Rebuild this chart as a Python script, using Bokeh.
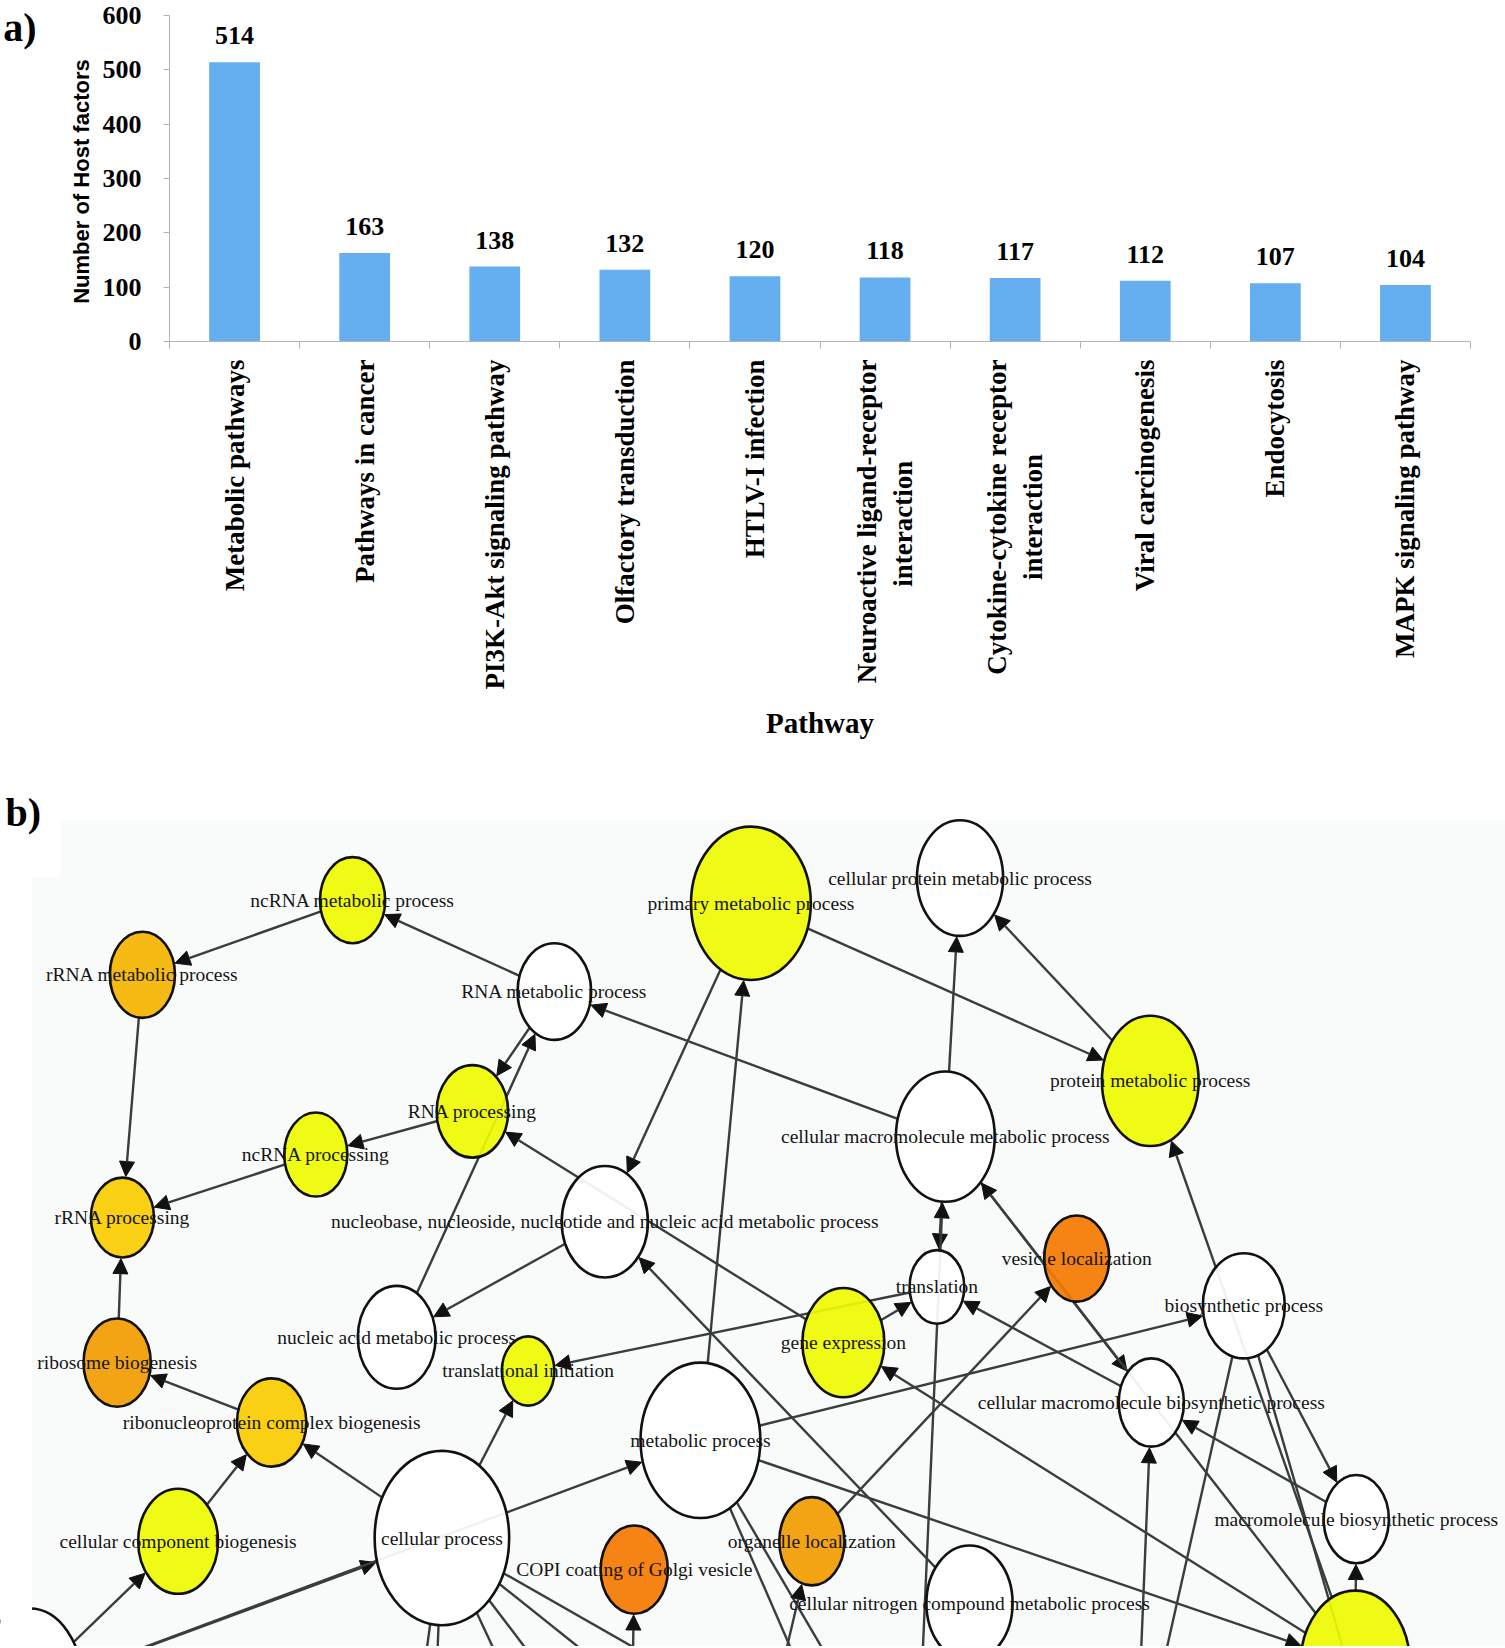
import math
from bokeh.plotting import figure
from bokeh.models import (Range1d, FixedTicker, Label, Arrow, NormalHead, ColumnDataSource,
                          LinearAxis, BoxAnnotation)
from bokeh.embed import file_html
from bokeh.resources import INLINE
from bokeh.core.properties import value

# ------------------------------------------------------------------ panel a data
pathways = [
    "Metabolic pathways",
    "Pathways in cancer",
    "PI3K-Akt signaling pathway",
    "Olfactory transduction",
    "HTLV-I infection",
    "Neuroactive ligand-receptor\ninteraction",
    "Cytokine-cytokine receptor\ninteraction",
    "Viral carcinogenesis",
    "Endocytosis",
    "MAPK signaling pathway",
]
host_factors = [514, 163, 138, 132, 120, 118, 117, 112, 107, 104]
count_ticks = [0, 100, 200, 300, 400, 500, 600]

# ------------------------------------------------------------------ panel b data
go_terms = [
    "ncRNA metabolic process",
    "rRNA metabolic process",
    "RNA metabolic process",
    "primary metabolic process",
    "cellular protein metabolic process",
    "protein metabolic process",
    "cellular macromolecule metabolic process",
    "RNA processing",
    "ncRNA processing",
    "rRNA processing",
    "nucleobase, nucleoside, nucleotide and nucleic acid metabolic process",
    "translation",
    "vesicle localization",
    "biosynthetic process",
    "gene expression",
    "nucleic acid metabolic process",
    "translational initiation",
    "ribosome biogenesis",
    "ribonucleoprotein complex biogenesis",
    "cellular macromolecule biosynthetic process",
    "metabolic process",
    "cellular process",
    "cellular component biogenesis",
    "macromolecule biosynthetic process",
    "organelle localization",
    "COPI coating of Golgi vesicle",
    "cellular nitrogen compound metabolic process",
    "macromolecule metabolic process",
    "cellular component organization or biogenesis",
    "biological_process",
    "cellular metabolic process",
    "nitrogen compound metabolic process",
    "cellular localization",
    "cellular component organization",
    "cellular component assembly",
    "cell communication",
    "cellular response to stimulus",
    "cellular biosynthetic process",
    "organic substance biosynthetic process",
]
term_x = [335, 135, 527, 714, 913, 1094, 899, 449, 300, 116, 575, 891, 1024, 1183, 802,
          377, 502, 111, 258, 1095, 666, 420, 169, 1290, 772, 603, 922, 1289, 28,
          -60, 871, 818, 717, 600, 540, 385, 410, 1080, 1330]
term_y = [856, 927, 943, 859, 835, 1028, 1081, 1057, 1098, 1158, 1162, 1224, 1197, 1242, 1277,
          1272, 1304, 1296, 1353, 1334, 1370, 1463, 1466, 1445, 1466, 1493, 1525, 1583, 1602,
          1640, 1720, 1720, 1700, 1700, 1720, 1720, 1720, 1700, 1750]
term_rx = [31, 31, 35, 57, 41, 46, 47, 34, 30, 30, 41, 26, 31, 39, 39,
           37, 25, 32, 33, 31, 57, 64, 38, 31, 31, 32, 41, 52, 50,
           60, 55, 50, 45, 45, 45, 45, 45, 50, 50]
term_ry = [41, 41, 46, 73, 55, 62, 62, 44, 40, 38, 53, 35, 41, 50, 52,
           49, 33, 42, 42, 42, 74, 83, 50, 42, 42, 42, 55, 70, 72,
           80, 70, 66, 60, 60, 60, 60, 60, 66, 66]
term_level = [1, 3, 0, 1, 0, 1, 0, 1, 1, 2, 0, 0, 5, 0, 1,
              0, 1, 4, 2, 0, 0, 0, 1, 0, 4, 5, 0, 1, 0,
              0, 0, 0, 0, 0, 0, 0, 0, 0, 0]
go_edges = [
    ("ncRNA metabolic process", "rRNA metabolic process"),
    ("RNA metabolic process", "ncRNA metabolic process"),
    ("rRNA metabolic process", "rRNA processing"),
    ("RNA metabolic process", "RNA processing"),
    ("nucleic acid metabolic process", "RNA metabolic process"),
    ("RNA processing", "ncRNA processing"),
    ("ncRNA processing", "rRNA processing"),
    ("ribosome biogenesis", "rRNA processing"),
    ("ribonucleoprotein complex biogenesis", "ribosome biogenesis"),
    ("cellular component biogenesis", "ribonucleoprotein complex biogenesis"),
    ("cellular process", "ribonucleoprotein complex biogenesis"),
    ("cellular process", "translational initiation"),
    ("biological_process", "cellular process"),
    ("biological_process", "metabolic process"),
    ("cellular component organization or biogenesis", "cellular component biogenesis"),
    ("primary metabolic process", "nucleobase, nucleoside, nucleotide and nucleic acid metabolic process"),
    ("metabolic process", "primary metabolic process"),
    ("primary metabolic process", "protein metabolic process"),
    ("cellular macromolecule metabolic process", "cellular protein metabolic process"),
    ("protein metabolic process", "cellular protein metabolic process"),
    ("cellular macromolecule metabolic process", "RNA metabolic process"),
    ("gene expression", "RNA processing"),
    ("nucleobase, nucleoside, nucleotide and nucleic acid metabolic process", "nucleic acid metabolic process"),
    ("translation", "translational initiation"),
    ("gene expression", "translation"),
    ("cellular macromolecule biosynthetic process", "translation"),
    ("cellular macromolecule metabolic process", "translation"),
    ("cellular metabolic process", "cellular macromolecule metabolic process"),
    ("cellular macromolecule metabolic process", "cellular macromolecule biosynthetic process"),
    ("macromolecule metabolic process", "cellular macromolecule metabolic process"),
    ("macromolecule metabolic process", "protein metabolic process"),
    ("macromolecule metabolic process", "macromolecule biosynthetic process"),
    ("macromolecule metabolic process", "gene expression"),
    ("metabolic process", "macromolecule metabolic process"),
    ("metabolic process", "biosynthetic process"),
    ("metabolic process", "cellular metabolic process"),
    ("metabolic process", "nitrogen compound metabolic process"),
    ("biosynthetic process", "macromolecule biosynthetic process"),
    ("macromolecule biosynthetic process", "cellular macromolecule biosynthetic process"),
    ("cellular biosynthetic process", "cellular macromolecule biosynthetic process"),
    ("biosynthetic process", "cellular biosynthetic process"),
    ("biosynthetic process", "organic substance biosynthetic process"),
    ("organelle localization", "vesicle localization"),
    ("cellular localization", "organelle localization"),
    ("cellular component organization", "COPI coating of Golgi vesicle"),
    ("cellular process", "cellular localization"),
    ("cellular process", "cellular component organization"),
    ("cellular process", "cellular component assembly"),
    ("cellular process", "cell communication"),
    ("cellular process", "cellular response to stimulus"),
    ("cellular process", "cellular metabolic process"),
    ("cellular nitrogen compound metabolic process", "nucleobase, nucleoside, nucleotide and nucleic acid metabolic process"),
]

SERIF = "Liberation Serif"
SANS = "Liberation Sans"
AXIS_GRAY = "#b4b4b4"
NBSP = "\u00a0"
PAGE_W = 1505
HA, HB = 748, 898          # heights of the two panels

# ================================================================== panel a
n = len(pathways)
pos_a = list(range(n))


def centred_label(name):
    # multi-line tick labels are end-aligned by the axis; pad short lines so they sit centred
    lines = name.split("\n")
    if len(lines) == 1:
        return name
    longest = max(len(s) for s in lines)
    return "\n".join(s + NBSP * int(round((longest - len(s)) * 0.95)) for s in lines)


pa = figure(width=PAGE_W, height=HA, x_range=Range1d(-0.5, n - 0.5), y_range=Range1d(0, 600),
            output_backend="svg", toolbar_location=None, tools="",
            min_border_left=166, min_border_right=35, min_border_top=15, min_border_bottom=HA - 341)
pa.outline_line_color = None
pa.grid.grid_line_color = None
pa.background_fill_color = "white"

pa.vbar(x=pos_a, top=host_factors, width=0.39, fill_color="#65aef0", line_color=None)
pa.text(x=pos_a, y=host_factors, text=[str(v) for v in host_factors],
        text_align="center", text_baseline="bottom", y_offset=-18,
        text_font=value(SERIF), text_font_style="bold", text_font_size="26px", text_color="black")

ya = pa.yaxis[0]
ya.ticker = FixedTicker(ticks=count_ticks)
ya.axis_line_color = AXIS_GRAY
ya.major_tick_line_color = AXIS_GRAY
ya.major_tick_out = 6
ya.major_tick_in = 0
ya.minor_tick_line_color = None
ya.major_label_standoff = 22
ya.major_label_text_font = SERIF
ya.major_label_text_font_style = "bold"
ya.major_label_text_font_size = "26px"
ya.major_label_text_color = "black"
ya.axis_label = "Number  of Host factors"
ya.axis_label_text_font = SANS
ya.axis_label_text_font_style = "bold"
ya.axis_label_text_font_size = "22px"
ya.axis_label_text_color = "black"
ya.axis_label_standoff = 6

xa = pa.xaxis[0]
xa.ticker = FixedTicker(ticks=pos_a, minor_ticks=[i - 0.5 for i in range(n + 1)])
xa.major_label_overrides = {i: centred_label(name) for i, name in zip(pos_a, pathways)}
xa.major_label_orientation = math.pi / 2
xa.axis_line_color = AXIS_GRAY
xa.major_tick_out = 0
xa.major_tick_in = 0
xa.major_tick_line_color = None
xa.minor_tick_line_color = AXIS_GRAY
xa.minor_tick_out = 7
xa.minor_tick_in = 0
xa.major_label_standoff = 11
xa.major_label_text_font = SERIF
xa.major_label_text_font_style = "bold"
xa.major_label_text_font_size = "27px"
xa.major_label_text_color = "black"
xa.axis_label = "Pathway"
xa.axis_label_text_font = SERIF
xa.axis_label_text_font_style = "bold"
xa.axis_label_text_font_size = "29px"
xa.axis_label_text_color = "black"
xa.axis_label_standoff = 14

# panel letter, carried by an empty outer axis on the left (leading blank line drops it
# below the top edge of the frame, where the axis anchors it)
panel_axis = LinearAxis(ticker=FixedTicker(ticks=[]), axis_line_color=None,
                        major_tick_line_color=None, minor_tick_line_color=None,
                        major_label_text_font_size="0px",
                        axis_label="\na)", axis_label_orientation="horizontal",
                        axis_label_align="end", axis_label_standoff=29,
                        axis_label_text_line_height=0.52,
                        axis_label_text_font=SERIF, axis_label_text_font_style="bold",
                        axis_label_text_font_size="40px", axis_label_text_color="black")
pa.add_layout(panel_axis, "left")

# ================================================================== panel b
UNIT = PAGE_W / 1432.0                      # page pixels per layout unit
VX0, VX1 = 0.0, 1432.0                      # visible window of the network layout
VY0 = HA / UNIT
VY1 = VY0 + HB / UNIT
BG_LEFT, BG_TOP, BG_STEP_LEFT, BG_STEP_TOP = 30, 834, 57, 780   # edge of the network image

level_colors = ["#ffffff", "#eefb00", "#f8cc00", "#f5b400", "#f29c00", "#f47a00"]
node_src = ColumnDataSource(dict(
    x=term_x, y=term_y,
    w=[2 * r for r in term_rx], h=[2 * r for r in term_ry],
    color=[level_colors[k] for k in term_level],
))
shown = [i for i in range(len(go_terms)) if term_y[i] + 12 < VY1 and term_x[i] > BG_LEFT]
label_src = ColumnDataSource(dict(x=[term_x[i] for i in shown], y=[term_y[i] for i in shown],
                                  name=[go_terms[i] for i in shown]))

idx = {t: i for i, t in enumerate(go_terms)}
x0s, y0s, x1s, y1s = [], [], [], []
for s, t in go_edges:
    i, j = idx[s], idx[t]
    dx, dy = term_x[j] - term_x[i], term_y[j] - term_y[i]
    d = math.hypot(dx, dy)
    ux, uy = dx / d, dy / d
    ts = 1.0 / math.sqrt((ux / term_rx[i]) ** 2 + (uy / term_ry[i]) ** 2)
    tt = 1.0 / math.sqrt((ux / term_rx[j]) ** 2 + (uy / term_ry[j]) ** 2) + 1.2
    x0s.append(term_x[i] + ux * ts)
    y0s.append(term_y[i] + uy * ts)
    x1s.append(term_x[j] - ux * tt)
    y1s.append(term_y[j] - uy * tt)
edge_src = ColumnDataSource(dict(x0=x0s, y0=y0s, x1=x1s, y1=y1s))

pb = figure(width=PAGE_W, height=HB, x_range=Range1d(VX0, VX1), y_range=Range1d(VY1, VY0),
            output_backend="svg", toolbar_location=None, tools="",
            x_axis_location=None, y_axis_location=None,
            min_border_left=0, min_border_right=0, min_border_top=0, min_border_bottom=0)
pb.outline_line_color = None
pb.grid.grid_line_color = None
pb.background_fill_color = "white"
pb.border_fill_color = "white"

pb.add_layout(BoxAnnotation(left=BG_STEP_LEFT, top=BG_STEP_TOP, fill_color="#f9fbfb", fill_alpha=1.0,
                            line_color=None, level="underlay"))
pb.add_layout(BoxAnnotation(left=BG_LEFT, top=BG_TOP, fill_color="#f9fbfb", fill_alpha=1.0,
                            line_color=None, level="underlay"))
pb.add_layout(Arrow(x_start="x0", y_start="y0", x_end="x1", y_end="y1", source=edge_src,
                    line_color="#363e3e", line_width=2.4, level="underlay",
                    end=NormalHead(size=15, fill_color="#111111", line_color="#111111", line_width=1)))

pb.ellipse(x="x", y="y", width="w", height="h", source=node_src,
           fill_color="color", fill_alpha=0.92, line_color="#111111", line_width=2.6)
pb.text(x="x", y="y", text="name", source=label_src, text_align="center", text_baseline="middle",
        text_font=value(SERIF), text_font_size="19.5px", text_color="#151515")

# white margin left of the network image, then the panel letter
pb.add_layout(BoxAnnotation(right=BG_LEFT, fill_color="white", fill_alpha=1.0, line_color=None))
pb.add_layout(Label(x=VX0 + 4.8, y=751, text="b)", text_baseline="top", text_align="left",
                    text_font=SERIF, text_font_style="bold", text_font_size="40px", text_color="black"))

open("out.html", "w").write(file_html([pa, pb], INLINE))
